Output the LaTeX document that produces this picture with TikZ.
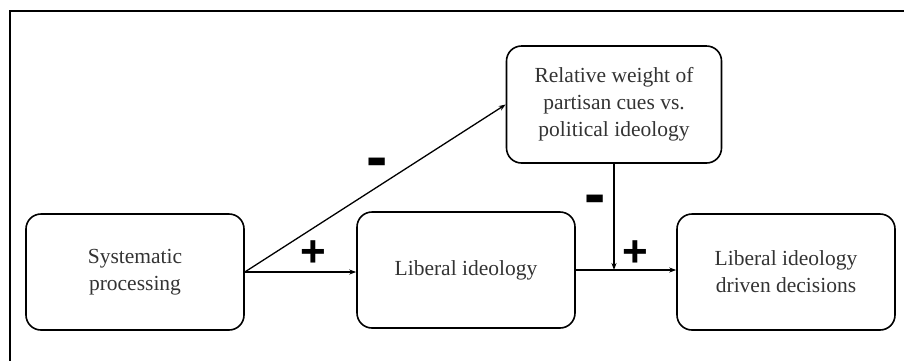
\documentclass[tikz,border=0pt]{standalone}
\usepackage{fontspec}
\setmainfont{Liberation Serif}
\newfontfamily\signfont{Liberation Sans}
\usetikzlibrary{arrows.meta}
\begin{document}
\begin{tikzpicture}[x=1pt,y=-1pt,
  box/.style={draw, line width=1.6pt, rounded corners=15pt, align=center,
    font=\fontsize{21.5}{27}\selectfont, text=black!80, inner sep=0pt},
  conn/.style={line width=1.3pt, -{Stealth[length=7pt,width=5pt]}},
  plussign/.style={font=\signfont\bfseries\fontsize{44}{44}\selectfont, inner sep=0pt},
  minussign/.style={font=\signfont\bfseries\fontsize{64}{64}\selectfont, inner sep=0pt}]
\useasboundingbox (0,0) rectangle (904,360);
\begin{scope}
  \clip (0,0) rectangle (904,360);
  \draw[line width=2.5pt] (10,400) -- (10,11) -- (950,11);
\end{scope}
\node[box, minimum width=218pt, minimum height=116pt] (sp) at (135,272) {Systematic\\processing};
\node[box, minimum width=218pt, minimum height=116pt] (li) at (466,270) {Liberal ideology};
\node[box, minimum width=218pt, minimum height=116pt] (dec) at (786,272) {Liberal ideology\\driven decisions};
\node[box, minimum width=215pt, minimum height=117pt] (rw) at (614,104.5) {Relative weight of\\partisan cues vs.\\political ideology};
\draw[conn] (sp.east) -- (sp.east -| li.west);
\draw[conn] (sp.east) -- (rw.west);
\draw[conn] (li.east) -- (li.east -| dec.west);
\draw[conn] (rw.south) -- (rw.south |- li.east);
\node[minussign] (m1) at (377,168) {-};
\node[plussign] (p1) at (313,254) {+};
\node[minussign] (m2) at (595,205) {-};
\node[plussign] (p2) at (635,254) {+};
\end{tikzpicture}
\end{document}
